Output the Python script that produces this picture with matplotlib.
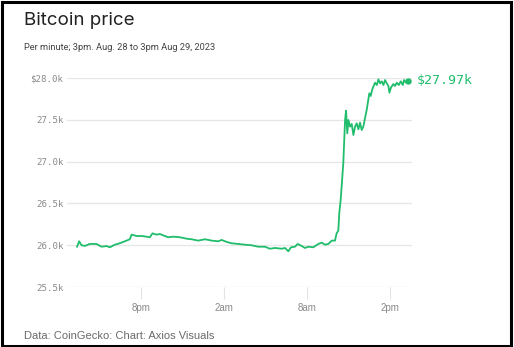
import matplotlib
matplotlib.use("Agg")
import matplotlib.pyplot as plt
from matplotlib.patches import Rectangle

# hours since midnight Aug 28 (24 = midnight Aug 29) and BTC price in USD
hours = [15.39, 15.54, 15.71, 15.95, 16.31, 16.79, 17.16, 17.52, 17.76, 18.12,
         18.47, 18.84, 19.20, 19.33, 19.69, 20.05, 20.41, 20.65, 20.84, 21.13,
         21.37, 21.61, 21.97, 22.33, 22.82, 23.30, 23.66, 24.14, 24.63, 25.11,
         25.59, 25.83, 26.20, 26.56, 27.03, 27.52, 28.00, 28.48, 28.96, 29.32,
         29.69, 30.17, 30.41, 30.65, 30.84, 31.13, 31.33, 31.62, 31.85, 32.09,
         32.45, 32.82, 33.06, 33.30, 33.54, 33.79, 34.02, 34.14, 34.26, 34.33,
         34.43, 34.50, 34.62, 34.75, 34.82, 34.91, 34.99, 35.11, 35.23, 35.35,
         35.47, 35.59, 35.71, 35.83, 35.95, 36.07, 36.21, 36.31, 36.50, 36.60,
         36.70, 36.79, 36.91, 37.04, 37.16, 37.28, 37.40, 37.52, 37.64, 37.76,
         37.88, 37.95, 38.07, 38.24, 38.36, 38.48, 38.63, 38.77, 38.92, 39.01,
         39.16, 39.32]
price = [25982, 26047, 26000, 25991, 26015, 26015, 25982, 25990, 25975, 26006,
         26023, 26047, 26071, 26126, 26110, 26110, 26102, 26095, 26142, 26126,
         26134, 26118, 26095, 26102, 26095, 26078, 26071, 26055, 26071, 26055,
         26047, 26063, 26039, 26023, 26015, 26006, 25999, 25982, 25982, 25958,
         25967, 25958, 25967, 25927, 25975, 25982, 26015, 25990, 25967, 25982,
         25975, 26015, 26031, 26006, 26015, 26055, 26055, 26142, 26174, 26382,
         26541, 26700, 26980, 27498, 27609, 27338, 27498, 27418, 27450, 27318,
         27418, 27458, 27386, 27466, 27378, 27418, 27537, 27617, 27817, 27785,
         27856, 27896, 27944, 27916, 27984, 27936, 27960, 27916, 27976, 27936,
         27904, 27825, 27888, 27928, 27904, 27944, 27916, 27960, 27916, 27976,
         27944, 27970]

yticks = [25500, 26000, 26500, 27000, 27500, 28000]
ylabels = ["25.5k", "26.0k", "26.5k", "27.0k", "27.5k", "$28.0k"]
xticks = [20, 26, 32, 38]
xlabels = ["8pm", "2am", "8am", "2pm"]

GREEN = "#1fbd6c"
GRAY = "#8a8a8a"

fig = plt.figure(figsize=(5.14, 3.47), dpi=100)
ax = fig.add_axes([0.130, 0.1729, 0.672, 0.6023])

ax.plot(hours, price, color=GREEN, lw=1.3, clip_on=False, zorder=3)
ax.plot(hours[-1], price[-1], "o", color=GREEN, ms=3.6, clip_on=False, zorder=4)
ax.annotate(f"${price[-1] / 1000:.2f}k", (hours[-1], price[-1]),
            xytext=(6, 0), textcoords="offset points", va="center", ha="left",
            family="DejaVu Sans Mono", fontsize=9.5, color=GREEN,
            annotation_clip=False)

ax.set_xlim(14.65, 39.6)
ax.set_ylim(25500, 28000)
ax.set_yticks(yticks, ylabels, family="DejaVu Sans Mono", fontsize=6.6, color=GRAY)
ax.set_xticks(xticks, xlabels, family="Liberation Sans", fontsize=7, color=GRAY)
ax.tick_params(axis="y", length=0, pad=2.5)
ax.tick_params(axis="x", length=8.5, width=0.8, color="#e3e3e3", pad=3)
ax.grid(axis="y", color="#e6e6e6", lw=0.9)
ax.set_axisbelow(True)
for s in ax.spines.values():
    s.set_visible(False)

fig.text(0.047, 0.942, "Bitcoin price", fontsize=13.5, family="Inter",
         color="#222222", va="center")
fig.text(0.047, 0.862, "Per minute; 3pm. Aug. 28 to 3pm Aug 29, 2023",
         fontsize=6.7, family="Roboto", color="#444444", va="center")
fig.text(0.047, 0.032, "Data: CoinGecko: Chart: Axios Visuals",
         fontsize=8.0, family="Liberation Sans", color="#6a6a6a", va="center")

fig.patches.append(Rectangle((0.003, 0.004), 0.991, 0.99, transform=fig.transFigure,
                             fill=False, ec="black", lw=2.2))

fig.savefig("out.png", dpi=100)
